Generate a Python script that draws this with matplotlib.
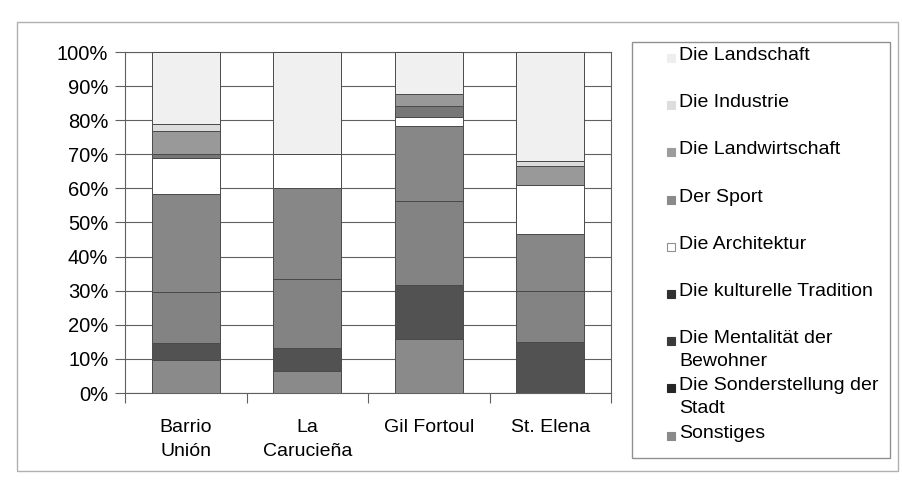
import numpy as np
import matplotlib.pyplot as plt
from matplotlib.patches import Rectangle

plt.rcParams['font.family'] = ['Liberation Sans', 'DejaVu Sans']

##### Daten (Anteile in %, von unten nach oben gestapelt) #####
orte = ['Barrio\nUnión', 'La\nCarucieña', 'Gil Fortoul', 'St. Elena']

sonstiges      = [9.6, 6.6, 15.7, 0.0]
sonderstellung = [5.2, 6.5, 15.9, 14.9]
mentalitaet    = [14.8, 20.5, 24.6, 14.9]
tradition      = [28.8, 26.7, 22.1, 16.9]
architektur    = [10.7, 10.0, 2.7, 14.4]
sport          = [1.0, 0.0, 3.1, 0.0]
landwirtschaft = [6.8, 0.0, 3.7, 5.4]
industrie      = [2.1, 0.0, 0.0, 1.6]
landschaft     = [21.1, 29.8, 12.2, 31.9]

namen = ['Sonstiges', 'Die Sonderstellung der\nStadt', 'Die Mentalität der\nBewohner',
         'Die kulturelle Tradition', 'Die Architektur', 'Der Sport',
         'Die Landwirtschaft', 'Die Industrie', 'Die Landschaft']
werte = [sonstiges, sonderstellung, mentalitaet, tradition, architektur,
         sport, landwirtschaft, industrie, landschaft]

# Graustufen wie im Scan
balken_farben = ['#8a8a8a', '#525252', '#838383', '#878787', '#ffffff',
                 '#777777', '#999999', '#dcdcdc', '#f0f0f0']
legende_farben = ['#8a8a8a', '#262626', '#3a3a3a', '#303030', '#ffffff',
                  '#8a8a8a', '#9c9c9c', '#dddddd', '#eeeeee']

W, H = 903, 494
fig = plt.figure(figsize=(W / 100, H / 100), dpi=100)

# Rahmen des Diagramms
fig.patches.append(Rectangle((17 / W, 1 - 471 / H), 881 / W, 449 / H,
                             transform=fig.transFigure, fill=False,
                             edgecolor='#b0b0b0', lw=1.0))

ax = fig.add_axes([125 / W, 1 - 393 / H, 486 / W, 341 / H])

data = np.array(werte, dtype=float)
data = data / data.sum(axis=0) * 100
x = np.arange(len(orte))
unten = np.zeros(len(orte))
for i in range(len(namen)):
    ax.bar(x, data[i], bottom=unten, width=0.56, color=balken_farben[i],
           edgecolor='#4a4a4a', linewidth=0.7, zorder=3)
    unten += data[i]

ax.set_xlim(-0.5, len(orte) - 0.5)
ax.set_ylim(0, 100)
ax.set_yticks(np.arange(0, 101, 10))
ax.set_yticklabels(['{}%'.format(v) for v in range(0, 101, 10)], fontsize=14.5)
ax.yaxis.grid(True, color='#606060', lw=0.8, zorder=0)
ax.tick_params(axis='y', direction='out', length=7, width=0.8, color='#606060', pad=5)

# Kategorien zwischen den Teilstrichen
ax.set_xticks(np.arange(-0.5, len(orte)))
ax.set_xticklabels([])
ax.tick_params(axis='x', direction='out', length=7, width=0.8, color='#606060')
for i, ort in enumerate(orte):
    ax.text(i, -7.5, ort, ha='center', va='top', fontsize=14, linespacing=1.6)

for s in ax.spines.values():
    s.set_color('#606060')
    s.set_linewidth(0.8)

##### Legende (wie in Excel, gleichmäßiger Abstand) #####
fig.patches.append(Rectangle((632 / W, 1 - 458 / H), 258 / W, 416 / H,
                             transform=fig.transFigure, fill=False,
                             edgecolor='#909090', lw=1.0))
for k, i in enumerate(range(len(namen) - 1, -1, -1)):
    y = 57 + k * 47.2
    fig.patches.append(Rectangle((667 / W, 1 - (y + 5) / H), 8 / W, 8 / H,
                                 transform=fig.transFigure,
                                 facecolor=legende_farben[i],
                                 edgecolor='#909090' if i == 4 else legende_farben[i],
                                 lw=0.8))
    fig.text(679 / W, 1 - (y - 10) / H, namen[i], ha='left', va='top',
             fontsize=14, linespacing=1.45)

fig.savefig('out.png', dpi=100)
